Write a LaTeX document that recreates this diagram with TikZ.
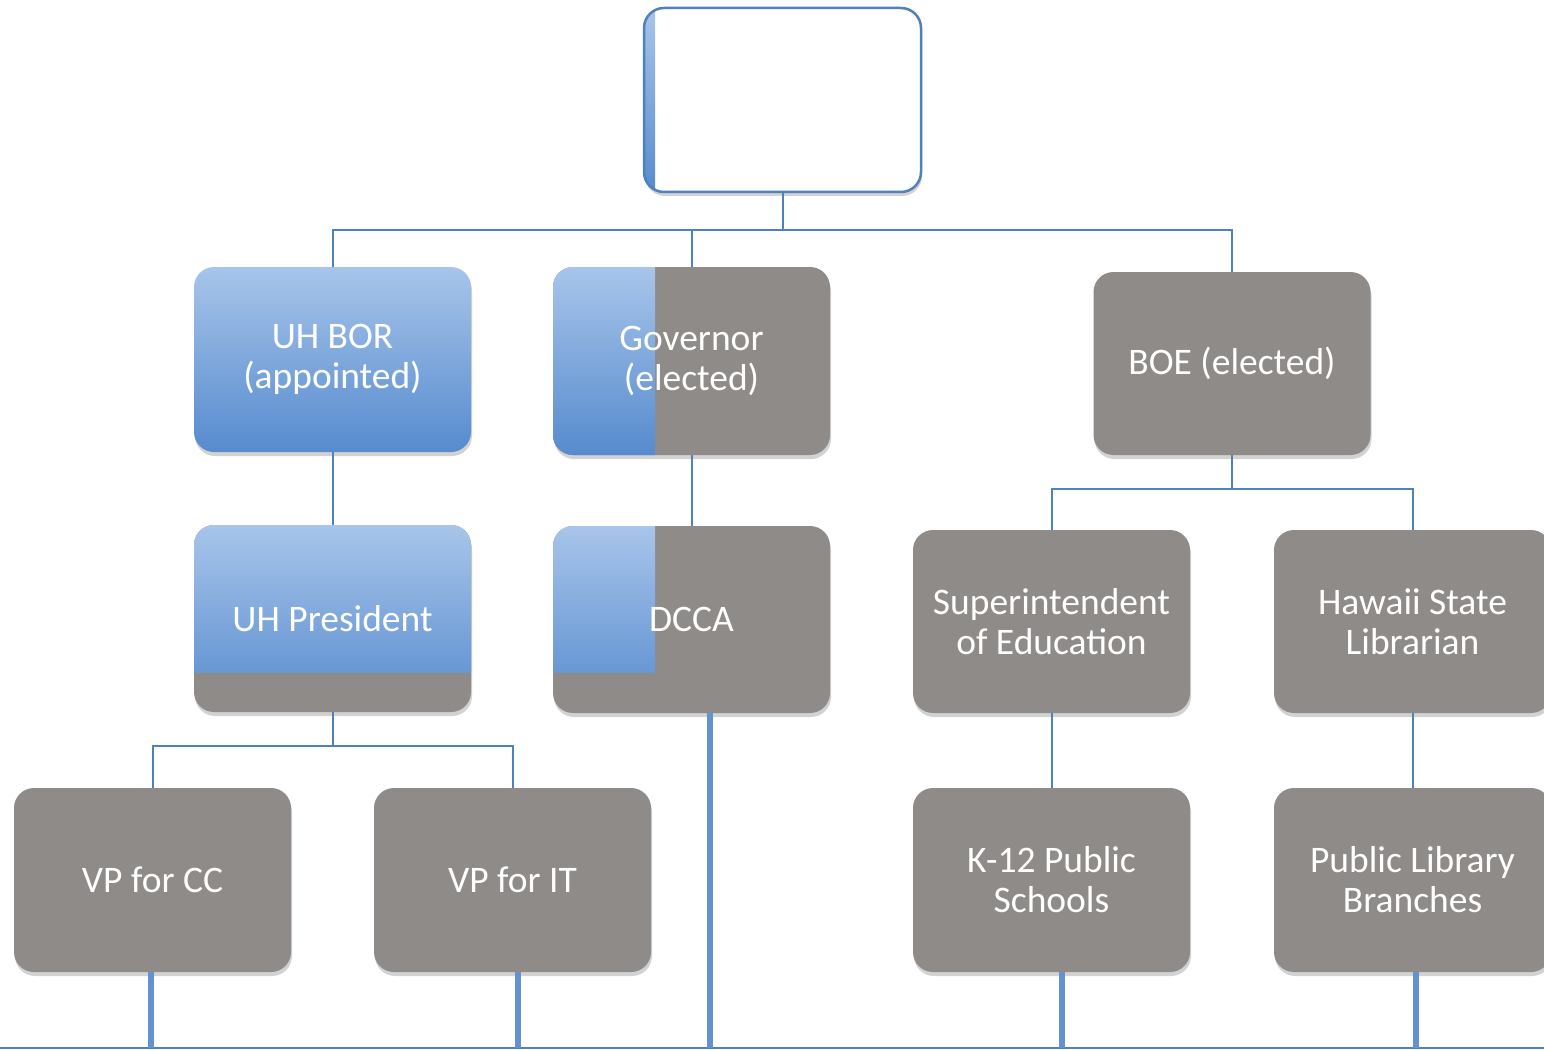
\documentclass[tikz,border=0pt]{standalone}
\usepackage{fontspec}
\setmainfont{Carlito}
\usetikzlibrary{shadows}
\definecolor{boxgray}{RGB}{143,139,137}
\definecolor{bluetop}{RGB}{168,197,234}
\definecolor{bluebot}{RGB}{86,139,206}
\definecolor{linkblue}{RGB}{79,129,189}
\definecolor{thickblue}{RGB}{98,146,210}
\tikzset{
  boxbase/.style={rectangle, rounded corners=20pt, inner sep=0pt,
    minimum width=277pt, align=center, text=white,
    font=\fontsize{37.5}{40}\selectfont,
    drop shadow={shadow xshift=1pt, shadow yshift=-4pt, opacity=0.35}},
  graybox/.style={boxbase, fill=boxgray},
  bluebox/.style={boxbase, top color=bluetop, bottom color=bluebot},
  halfblue/.style={graybox, path picture={
      \shade[sharp corners, top color=bluetop, bottom color=bluebot]
        (path picture bounding box.north west) rectangle
        ([xshift=102pt]path picture bounding box.south west);}},
  topblue/.style={graybox, path picture={
      \shade[sharp corners, top color=bluetop, bottom color=bluebot]
        (path picture bounding box.north west) rectangle
        ([yshift=#1]path picture bounding box.north east);}},
  cornerblue/.style={graybox, path picture={
      \shade[sharp corners, top color=bluetop, bottom color=bluebot]
        (path picture bounding box.north west) rectangle
        ([xshift=102pt,yshift=#1]path picture bounding box.north west);}},
  link/.style={draw=linkblue, line width=2pt},
  thicklink/.style={draw=thickblue, line width=6pt},
}
\begin{document}
\begin{tikzpicture}[x=1pt,y=-1pt]
\useasboundingbox (0,0) rectangle (1544,1051);
\fill[white] (0,0) rectangle (1544,1051);

% top box
\node[boxbase, fill=white, draw=linkblue, line width=2.5pt, minimum height=184pt,
  path picture={\shade[sharp corners, top color=bluetop, bottom color=bluebot]
     (path picture bounding box.north west) rectangle
     ([xshift=11pt]path picture bounding box.south west);}]
  (top) at (782.5,100) {};

% row 1
\node[bluebox, minimum height=185pt] (uhbor) at (332.5,359.5) {UH BOR\\(appointed)};
\node[halfblue, minimum height=188pt] (gov) at (691.5,361) {Governor\\(elected)};
\node[graybox, minimum height=183pt] (boe) at (1232,363.5) {BOE (elected)};

% row 2
\node[topblue=-147pt, minimum height=187pt] (uhpres) at (332.5,618.5) {UH President};
\node[cornerblue=-146pt, minimum height=187pt] (dcca) at (691.5,619.5) {DCCA};
\node[graybox, minimum height=183pt] (sup) at (1051.5,621.5) {Superintendent\\of Education};
\node[graybox, minimum height=183pt] (hsl) at (1412.5,621.5) {Hawaii State\\Librarian};

% row 3
\node[graybox, minimum height=184pt] (vpcc) at (152.5,880) {VP for CC};
\node[graybox, minimum height=184pt] (vpit) at (512.5,880) {VP for IT};
\node[graybox, minimum height=184pt] (k12) at (1051.5,880) {K-12 Public\\Schools};
\node[graybox, minimum height=184pt] (plb) at (1412.5,880) {Public Library\\Branches};

% tree connectors
\coordinate (bus1) at (782.5,230);
\coordinate (bus2) at (1232,489);
\coordinate (bus3) at (332.5,746);
\draw[link] (top.south) -- (bus1);
\draw[link] (bus1) -| (uhbor.north);
\draw[link] (bus1) -| (gov.north);
\draw[link] (bus1) -| (boe.north);
\draw[link] (uhbor.south) -- (uhpres.north);
\draw[link] (gov.south) -- (dcca.north);
\draw[link] (boe.south) -- (bus2);
\draw[link] (bus2) -| (sup.north);
\draw[link] (bus2) -| (hsl.north);
\draw[link] (uhpres.south) -- (bus3);
\draw[link] (bus3) -| (vpcc.north);
\draw[link] (bus3) -| (vpit.north);
\draw[link] (sup.south) -- (k12.north);
\draw[link] (hsl.south) -- (plb.north);

% bottom bus
\coordinate (bl) at (0,1048);
\coordinate (br) at (1544,1048);
\draw[link] (bl) -- (br);
\draw[thicklink] ([xshift=-2pt]vpcc.south) -- ([xshift=-2pt]vpcc.south |- bl);
\draw[thicklink] ([xshift=5pt]vpit.south) -- ([xshift=5pt]vpit.south |- bl);
\draw[thicklink] ([xshift=18pt]dcca.south) -- ([xshift=18pt]dcca.south |- bl);
\draw[thicklink] ([xshift=10pt]k12.south) -- ([xshift=10pt]k12.south |- bl);
\draw[thicklink] ([xshift=3pt]plb.south) -- ([xshift=3pt]plb.south |- bl);
\end{tikzpicture}
\end{document}
